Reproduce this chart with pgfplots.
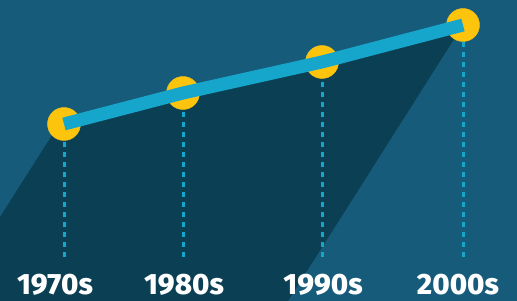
\documentclass[border=0pt]{standalone}
\usepackage{pgfplots}
\pgfplotsset{compat=1.18}
\usepackage{fontspec}
\setmainfont{Fira Sans}[BoldFont={Fira Sans ExtraBold}]
\definecolor{bg}{HTML}{175B7B}
\definecolor{shadow}{HTML}{0B3F54}
\definecolor{cyanline}{HTML}{17A6CB}
\definecolor{dot}{HTML}{FDC40E}
\begin{document}
\begin{tikzpicture}
\begin{axis}[
  scale only axis, width=517bp, height=301bp,
  xmin=0, xmax=517, ymin=0, ymax=301,
  axis lines=none, ticks=none,
  axis background/.style={fill=bg},
  clip=true, clip marker paths=true,
]
% shadow area
\addplot[fill=shadow, draw=none] coordinates {(0,0) (0,84) (56,172) (183,208) (322,239) (463,276) (288,0) (0,0)} \closedcycle;
% dashed drop lines
\addplot[cyanline, line width=3bp, dash pattern=on 5bp off 5bp] coordinates {(64,44) (64,177)};
\addplot[cyanline, line width=3bp, dash pattern=on 5bp off 5bp] coordinates {(183,44) (183,208)};
\addplot[cyanline, line width=3bp, dash pattern=on 5bp off 5bp] coordinates {(322,44) (322,239)};
\addplot[cyanline, line width=3bp, dash pattern=on 5bp off 5bp] coordinates {(463,44) (463,276)};
% markers
\addplot[dot, only marks, mark=*, mark size=16.5bp, mark options={fill=dot, draw=none}] coordinates {(64,177) (183,208) (322,239) (463,276)};
% line
\addplot[cyanline, line width=13bp, line cap=butt, line join=round] coordinates {(64,177) (183,208) (322,239) (463,276)};
% labels
\node[anchor=base, text=white, inner sep=0pt, font=\bfseries\fontsize{29.5}{31}\selectfont] at (axis cs:55,7) {1970s};
\node[anchor=base, text=white, inner sep=0pt, font=\bfseries\fontsize{29.5}{31}\selectfont] at (axis cs:184,7) {1980s};
\node[anchor=base, text=white, inner sep=0pt, font=\bfseries\fontsize{29.5}{31}\selectfont] at (axis cs:323,7) {1990s};
\node[anchor=base, text=white, inner sep=0pt, font=\bfseries\fontsize{29.5}{31}\selectfont] at (axis cs:458,7) {2000s};
\end{axis}
\end{tikzpicture}
\end{document}
